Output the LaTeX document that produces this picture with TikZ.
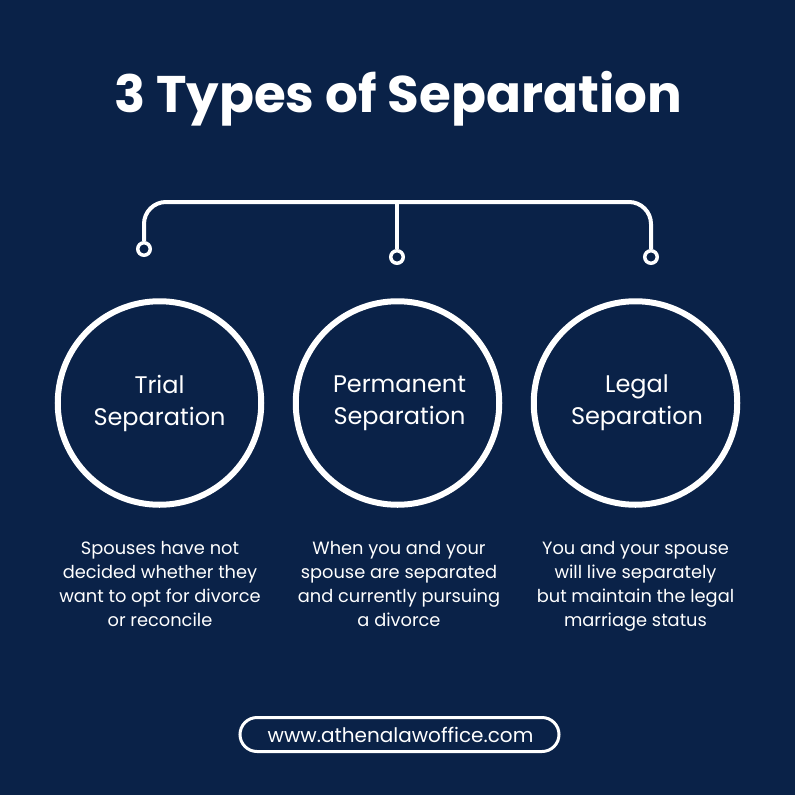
\documentclass[tikz,border=0pt]{standalone}
\usepackage{fontspec}
\setmainfont{Poppins}
\usetikzlibrary{positioning,calc}
\definecolor{navy}{HTML}{0A2248}

\begin{document}
\begin{tikzpicture}[x=1pt,y=-1pt,node distance=238pt]
    \tikzstyle{ring} = [circle, draw=white, line width=6pt, minimum size=203.5pt,
               text=white, align=center, font=\fontsize{24}{32}\selectfont]
    \tikzstyle{desc} = [text=white, align=center, font=\fontsize{17.8}{24}\selectfont]
    \tikzstyle{dot} = [circle, draw=white, line width=3.5pt, minimum size=12.5pt, inner sep=0pt]
    \tikzstyle{line} = [draw=white, line width=4pt]

    \fill [navy] (0,0) rectangle (795,795);
    \useasboundingbox (0,0) rectangle (795,795);

    \node [text=white, font=\fontsize{51.5}{60}\bfseries\selectfont] (title) at (398,99) {3 Types of Separation};

    % circles
    \node [ring] (trial) at (159.5,403) {Trial\\Separation};
    \node [ring, right=of trial.center, anchor=center] (permanent) {\hspace{4pt}Permanent\\\hspace{4pt}Separation};
    \node [ring, right=of permanent.center, anchor=center] (legal) {\hspace{3pt}Legal\\\hspace{3pt}Separation};

    % descriptions
    \node [desc] (trialtext) at (160,584) {Spouses have not\\decided whether they\\want to opt for divorce\\or reconcile};
    \node [desc] (permanenttext) at (399,584) {When you and your\\spouse are separated\\and currently pursuing\\a divorce};
    \node [desc] (legaltext) at (635.5,586) {You and your spouse\\will live separately\\but maintain the legal\\marriage status};

    % bracket
    \node [dot] (dotleft) at (144,249) {};
    \node [dot] (dotmid) at (397,257) {};
    \node [dot] (dotright) at (651,257) {};
    \coordinate (topmid) at (397,202);
    \draw [line, rounded corners=22pt] (dotleft.north) |- (topmid) -| (dotright.north);
    \draw [line] (topmid) -- (dotmid.north);

    \node [draw=white, line width=3pt, rounded corners=17pt, minimum width=319pt, minimum height=34pt,
           text=white, font=\fontsize{20}{25}\selectfont] (site) at (399.5,734.5) {\hspace{2pt}www.athenalawoffice.com};
\end{tikzpicture}
\end{document}
